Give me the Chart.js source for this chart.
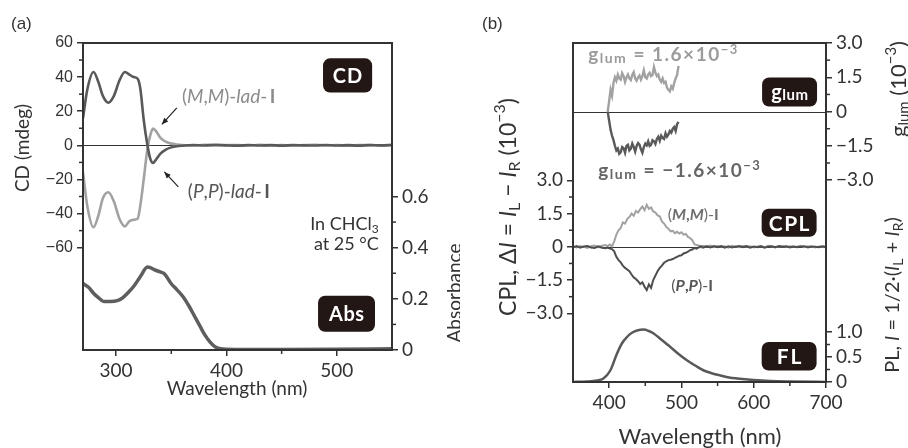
<!DOCTYPE html>
<html>
<head>
<meta charset="utf-8">
<script src="https://cdn.jsdelivr.net/npm/chart.js@4.4.0/dist/chart.umd.min.js"></script>
<style>
  body { margin: 0; background: #fff; width: 908px; height: 448px; position: relative; overflow: hidden; }
  canvas { position: absolute; top: 0; }
  #chartA { left: 0; }
  #chartB { left: 460px; }
</style>
</head>
<body>
<canvas id="chartA" width="460" height="448"></canvas>
<canvas id="chartB" width="448" height="448"></canvas>
<script>
// ---- panel (a): CD + absorbance ----
const cdWl = [270, 274, 279.5, 284, 288, 293, 298, 303, 308, 312,
              316, 319.5, 322, 325, 328.4, 331, 333.5, 336, 340, 345,
              350, 355, 360, 370, 380, 390, 400, 410, 420, 430,
              440, 450, 460, 470, 480, 490, 500, 510, 520, 530,
              540, 550];
const cdPP = [16, 33, 43, 37, 29, 25, 29, 38, 43, 41.5,
              40, 39, 33, 15, 0, -8, -10.4, -8.5, -5, -2.5,
              -1.2, -0.5, -0.2, 0.2, -0.1, 0.3, 0, -0.2, 0.2, -0.1,
              0.1, -0.2, 0.2, 0, -0.1, 0.2, -0.1, 0.1, -0.2, 0.1,
              0, 0.2];
const cdMM = [-16, -36, -48, -41, -31, -27.5, -33, -43, -47.5, -44.5,
              -43.6, -43, -35, -20, -2, 6, 9.8, 8.5, 4.5, 2.2,
              1, 0.5, 0.2, -0.2, 0.3, -0.1, 0.2, 0.1, -0.2, 0.3,
              -0.1, 0.2, -0.2, 0.1, 0.3, -0.1, 0.2, -0.2, 0.1, 0.2,
              -0.1, 0.1];
const absWl = [270, 275, 279.5, 284, 288.7, 295, 301, 305.6, 311, 316.2,
               322, 328.4, 331, 334.5, 340, 343.7, 349.8, 355, 360.5, 366,
               371.2, 376, 380.4, 385, 389.6, 395, 400, 420, 450, 500, 550];
const absVal = [0.26, 0.245, 0.222, 0.205, 0.19, 0.19, 0.193, 0.203, 0.225, 0.25,
                0.287, 0.324, 0.322, 0.314, 0.305, 0.298, 0.26, 0.236, 0.209, 0.172,
                0.131, 0.093, 0.059, 0.032, 0.013, 0.005, 0.003, 0.002, 0.002, 0.003, 0.005];
const cdTicks = [-60, -40, -20, 0, 20, 40, 60];
const absTicks = [0, 0.2, 0.4, 0.6];
const wlTicksA = [300, 400, 500];

// ---- panel (b): glum, CPL, FL ----
const glumWl = [398, 400, 402, 404, 406, 408, 410, 412, 414, 416,
                418, 420, 422, 424, 426, 428, 430, 432, 434, 436,
                438, 440, 442, 444, 446, 448, 450, 452, 454, 456,
                458, 460, 462, 464, 466, 468, 470, 472, 474, 476,
                478, 480, 482, 484, 486, 488, 490, 492, 494, 496];
const glumMM = [0.0, 0.45, 0.95, 0.7, 1.25, 1.5, 1.35, 1.62, 1.45, 1.4,
                1.68, 1.55, 1.3, 1.5, 1.62, 1.45, 1.38, 1.6, 1.72, 1.45,
                1.35, 1.5, 1.58, 1.4, 1.55, 1.8, 1.5, 1.45, 1.62, 1.7,
                1.55, 1.6, 1.95, 1.7, 1.55, 1.62, 1.4, 1.3, 1.45, 1.25,
                1.3, 1.05, 0.95, 0.88, 1.1, 1.0, 1.25, 1.45, 1.6, 2.0];
const glumPP = [0.0, -0.4, -0.8, -1.05, -1.25, -1.5, -1.7, -1.62, -1.85, -1.78,
                -1.55, -1.6, -1.8, -1.5, -1.45, -1.7, -1.62, -1.4, -1.55, -1.75,
                -1.5, -1.38, -1.45, -1.65, -1.8, -1.55, -1.4, -1.48, -1.3, -1.5,
                -1.45, -1.25, -1.3, -1.42, -1.2, -1.1, -1.28, -1.05, -1.15, -1.2,
                -0.95, -1.1, -1.0, -0.85, -0.92, -0.75, -0.68, -0.85, -0.55, -0.45];
const cplWl = [350, 355, 360, 365, 370, 375, 380, 385, 390, 395,
               398, 401, 404, 407, 410, 413, 416, 419, 422, 425,
               428, 431, 434, 437, 440, 443, 446, 449, 452, 455,
               458, 461, 464, 467, 470, 473, 476, 479, 482, 485,
               488, 491, 494, 497, 500, 503, 506, 509, 512, 515,
               518, 521, 524, 527, 530, 535, 540, 545, 550, 555,
               560, 565, 570, 575, 580, 585, 590, 595, 600, 605,
               610, 615, 620, 625, 630, 635, 640, 645, 650, 655,
               660, 665, 670, 675, 680, 685, 690, 695, 700];
const cplMM = [0.02, -0.03, 0.04, 0.00, -0.05, 0.03, 0.06, -0.02, 0.05, 0.08,
               0.03, 0.10, 0.02, 0.25, 0.55, 0.75, 0.85, 1.10, 1.05, 1.25,
               1.35, 1.50, 1.40, 1.62, 1.55, 1.70, 1.82, 1.65, 1.90, 1.72,
               1.78, 1.60, 1.55, 1.42, 1.38, 1.15, 1.05, 0.90, 0.82, 0.70,
               0.72, 0.62, 0.68, 0.60, 0.66, 0.55, 0.58, 0.45, 0.40, 0.30,
               0.12, 0.08, 0.06, -0.03, 0.05, 0.02, 0.06, -0.02, 0.04, 0.01,
               0.03, -0.04, 0.05, 0.02, -0.02, 0.04, 0.00, 0.03, -0.03, 0.02,
               0.04, -0.02, 0.05, 0.01, -0.03, 0.02, 0.04, -0.01, 0.03, 0.00,
               0.02, 0.05, -0.02, 0.03, 0.01, -0.03, 0.02, 0.00, 0.01];
const cplPP = [-0.02, 0.03, -0.04, 0.02, 0.04, -0.03, -0.05, 0.02, -0.04, -0.06,
               -0.03, -0.08, -0.10, -0.20, -0.45, -0.60, -0.70, -0.85, -0.95, -1.02,
               -1.10, -1.25, -1.38, -1.45, -1.55, -1.68, -1.60, -1.80, -1.95, -1.70,
               -1.85, -1.50, -1.30, -1.10, -0.95, -0.85, -0.72, -0.65, -0.60, -0.58,
               -0.55, -0.50, -0.45, -0.40, -0.38, -0.30, -0.27, -0.22, -0.15, -0.12,
               -0.05, -0.08, -0.02, 0.03, -0.04, 0.02, -0.03, 0.04, -0.02, 0.03,
               -0.04, 0.02, -0.03, 0.01, 0.04, -0.02, 0.03, -0.04, 0.01, -0.02,
               0.02, -0.04, 0.01, 0.03, -0.02, 0.04, -0.01, 0.02, -0.03, 0.01,
               -0.02, 0.01, 0.03, -0.03, 0.02, 0.00, -0.02, 0.03, -0.01];
const flWl = [350, 370, 383, 392, 401.6, 410.9, 418, 424.7, 431, 438.6,
              447.8, 455, 461.6, 472, 484.7, 496, 508, 520, 531, 543,
              554, 566, 577, 600, 623, 650, 700];
const flVal = [0, 0.01, 0.03, 0.07, 0.23, 0.57, 0.78, 0.9, 0.98, 1.03,
               1.05, 1.02, 0.97, 0.85, 0.7, 0.56, 0.43, 0.32, 0.23, 0.17,
               0.13, 0.09, 0.07, 0.04, 0.02, 0.01, 0];
const cplTicks = [-3, -1.5, 0, 1.5, 3];
const plTicks = [0, 0.5, 1];
const wlTicksB = [400, 500, 600, 700];

const ink = '#333';
const darkC = '#595959';
const lightC = '#a2a2a2';
const tagC = '#221714';
const sans = '"Liberation Sans", Arial, sans-serif';
const gill = 'Lato, sans-serif';

let pts = (xs, ys) => xs.map((x, i) => ({x: x, y: ys[i]}));
let minus = v => (v < 0 ? '\u2212' : '') + Math.abs(v);
let dec1 = v => v === 0 ? '0' : (v < 0 ? '\u2212' : '') + Math.abs(v).toFixed(1);
let setTicks = vals => s => { s.ticks = vals.map(v => ({value: v})); };
let fixW = w => s => { s.width = w; };
let fixH = h => s => { s.height = h; };

function yAxis(pos, min, max, vals, fmt, font, w) {
    return {
        type: 'linear', position: pos, min: min, max: max,
        afterBuildTicks: setTicks(vals), afterFit: fixW(w),
        ticks: { callback: fmt, color: ink, font: font, padding: 4, autoSkip: false },
        grid: { drawOnChartArea: false, drawTicks: true, tickLength: 6, color: ink, lineWidth: 1.5 },
        border: { display: false }
    };
}
function xAxis(min, max, vals, font, h) {
    return {
        type: 'linear', position: 'bottom', min: min, max: max,
        afterBuildTicks: setTicks(vals), afterFit: fixH(h),
        ticks: { callback: v => String(v), color: ink, font: font, padding: 3, autoSkip: false, maxRotation: 0 },
        grid: { drawOnChartArea: false, drawTicks: true, tickLength: 6, color: ink, lineWidth: 1.5 },
        border: { display: false }
    };
}

// text made of pieces in different fonts (sub/superscripts)
function rich(ctx, x, y, parts, align) {
    let w = 0;
    for (let p of parts) { ctx.font = p[1]; w += ctx.measureText(p[0]).width; }
    let cx = align === 'center' ? x - w / 2 : align === 'right' ? x - w : x;
    ctx.textAlign = 'left';
    for (let p of parts) {
        ctx.font = p[1];
        ctx.fillText(p[0], cx, y + (p[2] || 0));
        cx += ctx.measureText(p[0]).width;
    }
}
function vrich(ctx, x, y, parts) {
    ctx.save();
    ctx.translate(x, y);
    ctx.rotate(-Math.PI / 2);
    ctx.textBaseline = 'middle';
    rich(ctx, 0, 0, parts, 'center');
    ctx.restore();
}
function tag(ctx, x0, y0, x1, y1, parts, sp) {
    ctx.save();
    ctx.fillStyle = tagC;
    ctx.beginPath();
    ctx.roundRect(x0, y0, x1 - x0, y1 - y0, 7);
    ctx.fill();
    ctx.fillStyle = '#fff';
    ctx.textBaseline = 'middle';
    ctx.letterSpacing = (sp || 0) + 'px';
    rich(ctx, (x0 + x1) / 2 + (sp || 0) / 2, (y0 + y1) / 2 + 1, parts, 'center');
    ctx.restore();
}
function arrow(ctx, x0, y0, x1, y1) {
    let a = Math.atan2(y1 - y0, x1 - x0);
    ctx.beginPath(); ctx.moveTo(x0, y0); ctx.lineTo(x1, y1); ctx.stroke();
    ctx.beginPath();
    ctx.moveTo(x1, y1);
    ctx.lineTo(x1 - 7 * Math.cos(a - 0.4), y1 - 7 * Math.sin(a - 0.4));
    ctx.lineTo(x1 - 7 * Math.cos(a + 0.4), y1 - 7 * Math.sin(a + 0.4));
    ctx.closePath(); ctx.fill();
}

// frame, zero lines, minor ticks and the chart's own texts
function decor(cfg) {
    return {
        id: 'decor',
        afterLayout(chart) {
            // second right-hand axis sits on the same edge as the first one
            if (cfg.share) {
                let a = chart.scales[cfg.share[0]], b = chart.scales[cfg.share[1]];
                a.left = b.left; a.right = b.right; a.width = b.width;
            }
        },
        beforeDatasetsDraw(chart) {
            let ctx = chart.ctx, a = chart.chartArea;
            ctx.save();
            ctx.strokeStyle = ink; ctx.lineWidth = 1;
            for (let id of cfg.zeros) {
                let y = Math.round(chart.scales[id].getPixelForValue(0)) + 0.5;
                ctx.beginPath(); ctx.moveTo(a.left, y); ctx.lineTo(a.right, y); ctx.stroke();
            }
            ctx.restore();
        },
        afterDraw(chart) {
            let ctx = chart.ctx, a = chart.chartArea;
            ctx.save();
            ctx.strokeStyle = ink; ctx.lineWidth = 2;
            ctx.strokeRect(a.left, a.top, a.right - a.left, a.bottom - a.top);
            ctx.lineWidth = 1.5;
            for (let id in cfg.minor) {
                let s = chart.scales[id];
                for (let v of cfg.minor[id]) {
                    let p = s.getPixelForValue(v);
                    ctx.beginPath();
                    if (s.position === 'bottom') { ctx.moveTo(p, a.bottom); ctx.lineTo(p, a.bottom + 4); }
                    else if (s.position === 'left') { ctx.moveTo(a.left, p); ctx.lineTo(a.left - 4, p); }
                    else { ctx.moveTo(a.right, p); ctx.lineTo(a.right + 4, p); }
                    ctx.stroke();
                }
            }
            ctx.fillStyle = ink; ctx.strokeStyle = ink;
            cfg.texts(chart, ctx);
            ctx.restore();
        }
    };
}

function textsA(chart, ctx) {
    let X = v => chart.scales.x.getPixelForValue(v);
    let Y = v => chart.scales.y.getPixelForValue(v);
    let A = v => chart.scales.y1.getPixelForValue(v);
    let f = '19px ' + gill;
    ctx.textBaseline = 'alphabetic';
    ctx.font = '17px ' + sans; ctx.textAlign = 'left';
    ctx.fillText('(a)', 11, 29);
    vrich(ctx, 23, 148, [['CD (mdeg)', f]]);
    vrich(ctx, 455, 293, [['Absorbance', f]]);
    ctx.textBaseline = 'middle';
    rich(ctx, 237, 389, [['Wavelength (nm)', f]], 'center');
    ctx.textBaseline = 'alphabetic';
    // in CHCl3
    let g = '18px ' + gill;
    rich(ctx, X(538), A(0.47), [['In CHCl', g], ['3', '12px ' + gill, 3]], 'right');
    rich(ctx, X(538), A(0.392), [['at 25 \u00b0C', g]], 'right');
    // isomer labels
    let h = '19px ' + gill, fi = 'italic 19px ' + gill, fb = 'bold 19px ' + gill;
    ctx.fillStyle = '#8c8c8c';
    rich(ctx, X(359.7), Y(24.8), [['(', h], ['M', fi], [',', h], ['M', fi], [')-', h], ['lad', fi], ['-', h], ['\u2009I', fb]], 'left');
    ctx.fillStyle = '#555';
    rich(ctx, X(365), Y(-31), [['(', h], ['P', fi], [',', h], ['P', fi], [')-', h], ['lad', fi], ['-', h], ['\u2009I', fb]], 'left');
    ctx.fillStyle = '#222'; ctx.strokeStyle = '#222'; ctx.lineWidth = 1.2;
    arrow(ctx, X(355), Y(22), X(341.5), Y(12.3));
    arrow(ctx, X(356.4), Y(-24.4), X(343.7), Y(-15.6));
    tag(ctx, X(487.5), Y(51), X(532), Y(31), [['CD', 'bold 20px ' + gill]], 1);
    tag(ctx, X(483), A(0.212), X(534.6), A(0.071), [['Abs', 'bold 20px ' + gill]], 0.5);
}

function textsB(chart, ctx) {
    let X = v => chart.scales.x.getPixelForValue(v);
    let G = v => chart.scales.yG.getPixelForValue(v);
    let C = v => chart.scales.yC.getPixelForValue(v);
    let P = v => chart.scales.yP.getPixelForValue(v);
    let f = '20px ' + gill, fi = 'italic 20px ' + gill, fs = '14px ' + gill;
    let f2 = '23px ' + gill, fi2 = 'italic 23px ' + gill, fs2 = '16px ' + gill;
    let f3 = '22px ' + gill, fs3 = '15px ' + gill;
    ctx.textBaseline = 'alphabetic';
    ctx.font = '17px ' + sans; ctx.textAlign = 'left';
    ctx.fillText('(b)', 22, 29);
    vrich(ctx, 49, 207, [['CPL, \u0394', f2], ['I', fi2], [' = ', f2], ['I', fi2], ['L', fs2, 6], [' \u2212 ', f2], ['I', fi2], ['R', fs2, 6], [' (10', f2], ['\u22123', fs2, -9], [')', f2]]);
    vrich(ctx, 439, 89, [['g', f3], ['lum', fs3, 5], [' (10', f3], ['\u22123', fs3, -8], [')', f3]]);
    vrich(ctx, 433, 295, [['PL, ', f], ['I', fi], [' = 1/2\u00b7(', f], ['I', fi], ['L', fs, 5], [' + ', f], ['I', fi], ['R', fs, 5], [')', f]]);
    ctx.textBaseline = 'middle';
    rich(ctx, 240, 437, [['Wavelength (nm)', '22px ' + gill]], 'center');
    ctx.textBaseline = 'alphabetic';
    let b = 'bold 19px ' + gill, bs = 'bold 14px ' + gill, bt = 'bold 13px ' + gill;
    ctx.letterSpacing = '1.5px';
    ctx.fillStyle = '#9b9b9b';
    rich(ctx, X(371), G(2.23), [['g', b], ['lum', bs, 2], [' = 1.6\u00d710', b], ['\u22123', bt, -7]], 'left');
    ctx.fillStyle = '#666';
    rich(ctx, X(385), G(-2.85), [['g', b], ['lum', bs, 2], [' = \u22121.6\u00d710', b], ['\u22123', bt, -7]], 'left');
    ctx.letterSpacing = '0px';
    let r = '16px ' + gill, rb = 'bold 16px ' + gill, rbi = 'bold italic 16px ' + gill;
    ctx.fillStyle = '#707070';
    rich(ctx, X(481), C(1.22), [['(', r], ['M', rbi], [',', rb], ['M', rbi], [')-', r], ['I', rb]], 'left');
    ctx.fillStyle = '#555';
    rich(ctx, X(486), C(-1.99), [['(', r], ['P', rbi], [',', rb], ['P', rbi], [')-', r], ['I', rb]], 'left');
    tag(ctx, X(611.6), G(1.49), X(687.6), G(0.22), [['g', 'bold 20px ' + gill], ['lum', 'bold 15px ' + gill, 2]], 0.5);
    tag(ctx, X(611), C(1.72), X(687), C(0.45), [['CPL', 'bold 21px ' + gill]], 1.5);
    tag(ctx, X(611), P(0.8), X(687), P(0.23), [['FL', 'bold 21px ' + gill]], 2);
}

let line = (data, color, width, axis, smooth) => ({
    data: data, borderColor: color, borderWidth: width, pointRadius: 0,
    fill: false, yAxisID: axis, cubicInterpolationMode: smooth ? 'monotone' : 'default', tension: 0
});

const tickA = { family: sans, size: 16 };
const tickG = { family: gill, size: 19 };

let chartA = new Chart(document.getElementById('chartA'), {
    type: 'line',
    data: {
        datasets: [
            line(pts(cdWl, cdPP), darkC, 2.6, 'y', true),
            line(pts(cdWl, cdMM), lightC, 2.6, 'y', true),
            line(pts(absWl, absVal), '#5e5e5e', 3.5, 'y1', true)
        ]
    },
    options: {
        responsive: false, animation: false, devicePixelRatio: 1,
        layout: { padding: { top: 43, right: 0, left: 0, bottom: 0 } },
        plugins: { legend: { display: false }, tooltip: { enabled: false } },
        scales: {
            x: xAxis(270, 550, wlTicksA, tickG, 98),
            y: yAxis('left', -120, 60, cdTicks, minus, tickA, 83),
            y1: yAxis('right', 0, 1.2, absTicks, dec1, tickG, 68)
        }
    },
    plugins: [decor({ zeros: ['y'], minor: { x: [350, 450], y: [-50, -30, -10, 10, 30, 50], y1: [0.1, 0.3, 0.5] }, texts: textsA })]
});

let chartB = new Chart(document.getElementById('chartB'), {
    type: 'line',
    data: {
        datasets: [
            line(pts(glumWl, glumPP), darkC, 2.4, 'yG', false),
            line(pts(cplWl, cplPP), '#4e4e4e', 2, 'yC', false),
            line(pts(flWl, flVal), darkC, 2.5, 'yP', true),
            line(pts(glumWl, glumMM), lightC, 2.4, 'yG', false),
            line(pts(cplWl, cplMM), lightC, 2, 'yC', false)
        ]
    },
    options: {
        responsive: false, animation: false, devicePixelRatio: 1,
        layout: { padding: { top: 43, right: 0, left: 0, bottom: 0 } },
        plugins: { legend: { display: false }, tooltip: { enabled: false } },
        scales: {
            x: xAxis(350, 700, wlTicksB, tickG, 66),
            yC: yAxis('left', -6.1, 9.2, cplTicks, dec1, tickG, 113),
            yP: yAxis('right', 0, 6.78, plTicks, dec1, tickG, 0),
            yG: yAxis('right', -11.83, 3, cplTicks, dec1, tickG, 82)
        }
    },
    plugins: [decor({ share: ['yP', 'yG'], zeros: ['yG', 'yC'], minor: { x: [450, 550, 650], yC: [-2.25, -0.75, 0.75, 2.25], yG: [-2.25, -0.75, 0.75, 2.25], yP: [0.25, 0.75] }, texts: textsB })]
});
</script>
</body>
</html>
